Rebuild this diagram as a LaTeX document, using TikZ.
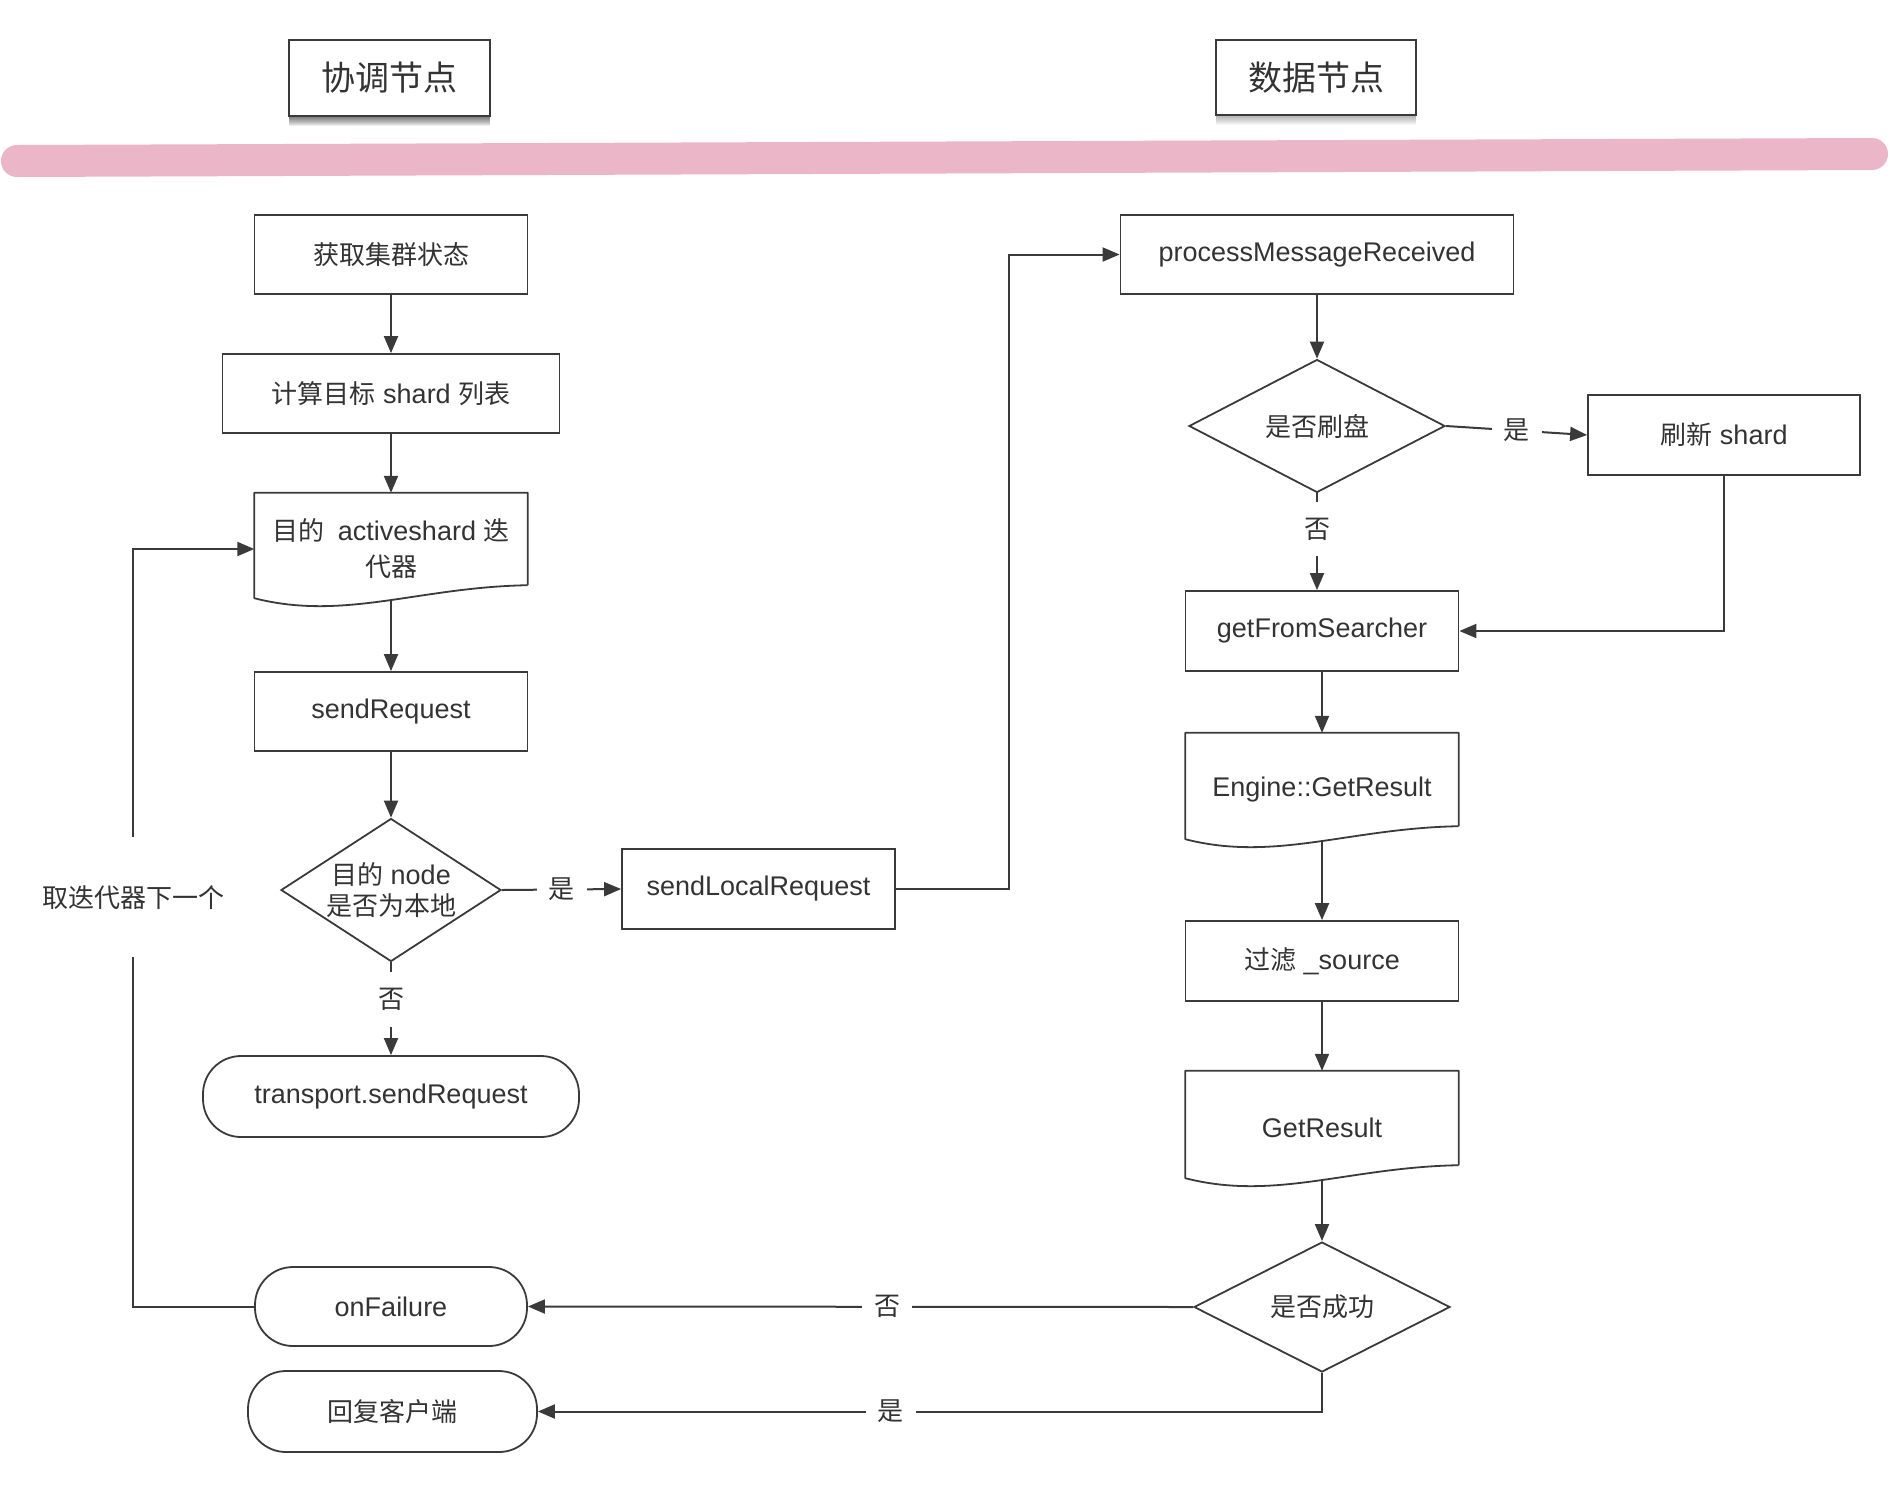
\documentclass[tikz,border=0pt]{standalone}
\usepackage{fontspec}
\setmainfont{Liberation Sans}
\newfontfamily\cjk{Noto Sans CJK SC}
\usetikzlibrary{arrows.meta,shapes.geometric,calc}
\definecolor{ln}{HTML}{3A3A3A}
\definecolor{txt}{HTML}{333333}
\definecolor{barpink}{HTML}{ECB6C9}
\newcommand\zh[1]{{\cjk\fontsize{26}{36}\selectfont #1}}
\newcommand\docpath[1]{\draw[ln, line width=1.8pt, line join=round] ([yshift=20pt]#1.south east) -- (#1.north east) -- (#1.north west) -- ([yshift=7pt]#1.south west) .. controls ([xshift=90pt,yshift=-16pt]#1.south west) and ([xshift=-110pt,yshift=18pt]#1.south east) .. ([yshift=20pt]#1.south east);}
\newcommand\hdrshadow[2]{\foreach \i in {1,...,9}{\fill[black,opacity=#2] ([xshift=1pt]#1.south west) rectangle ([xshift=-1pt,yshift=-\i pt]#1.south east);}}
\begin{document}
\begin{tikzpicture}[x=1pt,y=-1pt,
  every node/.style={text=txt, font=\fontsize{27}{36}\selectfont},
  box/.style={draw=ln, line width=1.8pt, rectangle, inner sep=0pt, align=center},
  docbox/.style={rectangle, inner sep=0pt, align=center},
  term/.style={draw=ln, line width=1.8pt, rectangle, rounded corners=38pt, inner sep=0pt},
  dec/.style={draw=ln, line width=1.8pt, diamond, inner sep=0pt, align=center},
  conn/.style={draw=ln, line width=2pt, -{Triangle[length=17pt,width=14pt]}},
  lab/.style={fill=white, inner xsep=12pt, inner ysep=16pt, font=\cjk\fontsize{26}{30}\selectfont},
  hdr/.style={draw=ln, line width=2pt, inner sep=0pt, font=\cjk\fontsize{34}{40}\selectfont}
]
\useasboundingbox (0,0) rectangle (1896,1484);

% header
\node[hdr, minimum width=201pt, minimum height=76pt] (h1) at (389.5,78) {协调节点};
\node[hdr, minimum width=200pt, minimum height=75pt] (h2) at (1316,77.5) {数据节点};
\hdrshadow{h1}{0.07}
\hdrshadow{h2}{0.035}
\draw[barpink, line width=32pt, line cap=round] (17,161) -- (1872,154);

% left column
\node[box, minimum width=273pt, minimum height=79pt] (a1) at (391,254.5) {\zh{获取集群状态}};
\node[box, minimum width=337pt, minimum height=79pt] (a2) at (391,393.5) {\zh{计算目标} shard \zh{列表}};
\node[docbox, minimum width=273pt, minimum height=112pt] (a3) at (391,549) {\zh{目的}\enspace activeshard \zh{迭}\\\zh{代器}};
\docpath{a3}
\node[box, minimum width=273pt, minimum height=79pt] (a4) at (391,711.5) {sendRequest};
\node[dec, minimum width=220pt, minimum height=143pt, aspect=1.54, font=\fontsize{27}{31}\selectfont] (d1) at (391,890) {\zh{目的} node\\\zh{是否为本地}};
\node[term, minimum width=376pt, minimum height=81pt] (a5) at (391,1096.5) {transport.sendRequest};
\node[box, minimum width=273pt, minimum height=80pt] (a6) at (758.5,889) {sendLocalRequest};

% right column
\node[box, minimum width=393pt, minimum height=79pt] (b1) at (1317,254.5) {processMessageReceived};
\node[dec, minimum width=256pt, minimum height=133pt, aspect=1.9] (d2) at (1317,426) {\zh{是否刷盘}};
\node[box, minimum width=272pt, minimum height=80pt] (b2) at (1724,435) {\zh{刷新} shard};
\node[box, minimum width=273pt, minimum height=80pt] (b3) at (1322,631) {getFromSearcher};
\node[docbox, minimum width=273pt, minimum height=113pt] (b4) at (1322,789.5) {Engine::GetResult};
\docpath{b4}
\node[box, minimum width=273pt, minimum height=80pt] (b5) at (1322,961) {\zh{过滤} \_source};
\node[docbox, minimum width=273pt, minimum height=114pt] (b6) at (1322,1128) {GetResult};
\docpath{b6}
\node[dec, minimum width=256pt, minimum height=130pt, aspect=1.97] (d3) at (1322,1307) {\zh{是否成功}};
\node[term, minimum width=272pt, minimum height=79pt] (c1) at (391,1306.5) {onFailure};
\node[term, minimum width=289pt, minimum height=81pt] (c2) at (392.5,1411.5) {\zh{回复客户端}};

% connectors left
\draw[conn] (a1.south) -- (a2.north);
\draw[conn] (a2.south) -- (a3.north);
\draw[conn] ([yshift=4pt]a3.south) -- (a4.north);
\draw[conn] (a4.south) -- (d1.north);
\draw[conn] (d1.south) -- node[lab, pos=0.4] {否} (a5.north);
\draw[conn] (d1.east) -- node[lab] {是} (a6.west);
\draw[conn] (a6.east) -- ++(113,0) |- (b1.west);

% connectors right
\draw[conn] (b1.south) -- (d2.north);
\draw[conn] (d2.east) -- node[lab] {是} (b2.west);
\draw[conn] (d2.south) -- node[lab, pos=0.37] {否} (d2.south |- b3.north);
\draw[conn] (b2.south) |- (b3.east);
\draw[conn] (b3.south) -- (b4.north);
\draw[conn] ([yshift=4pt]b4.south) -- (b5.north);
\draw[conn] (b5.south) -- (b6.north);
\draw[conn] ([yshift=4pt]b6.south) -- (d3.north);
\draw[conn] (d3.west) -- node[lab, pos=0.46] {否} (c1.east);
\draw[conn] (d3.south) |- node[lab, pos=0.775] {是} (c2.east);

% loop back
\draw[conn] (c1.west) -- ++(-121,0) |- node[lab, pos=0.27, inner ysep=48pt, inner xsep=6pt] {取迭代器下一个} (a3.west);
\end{tikzpicture}
\end{document}
